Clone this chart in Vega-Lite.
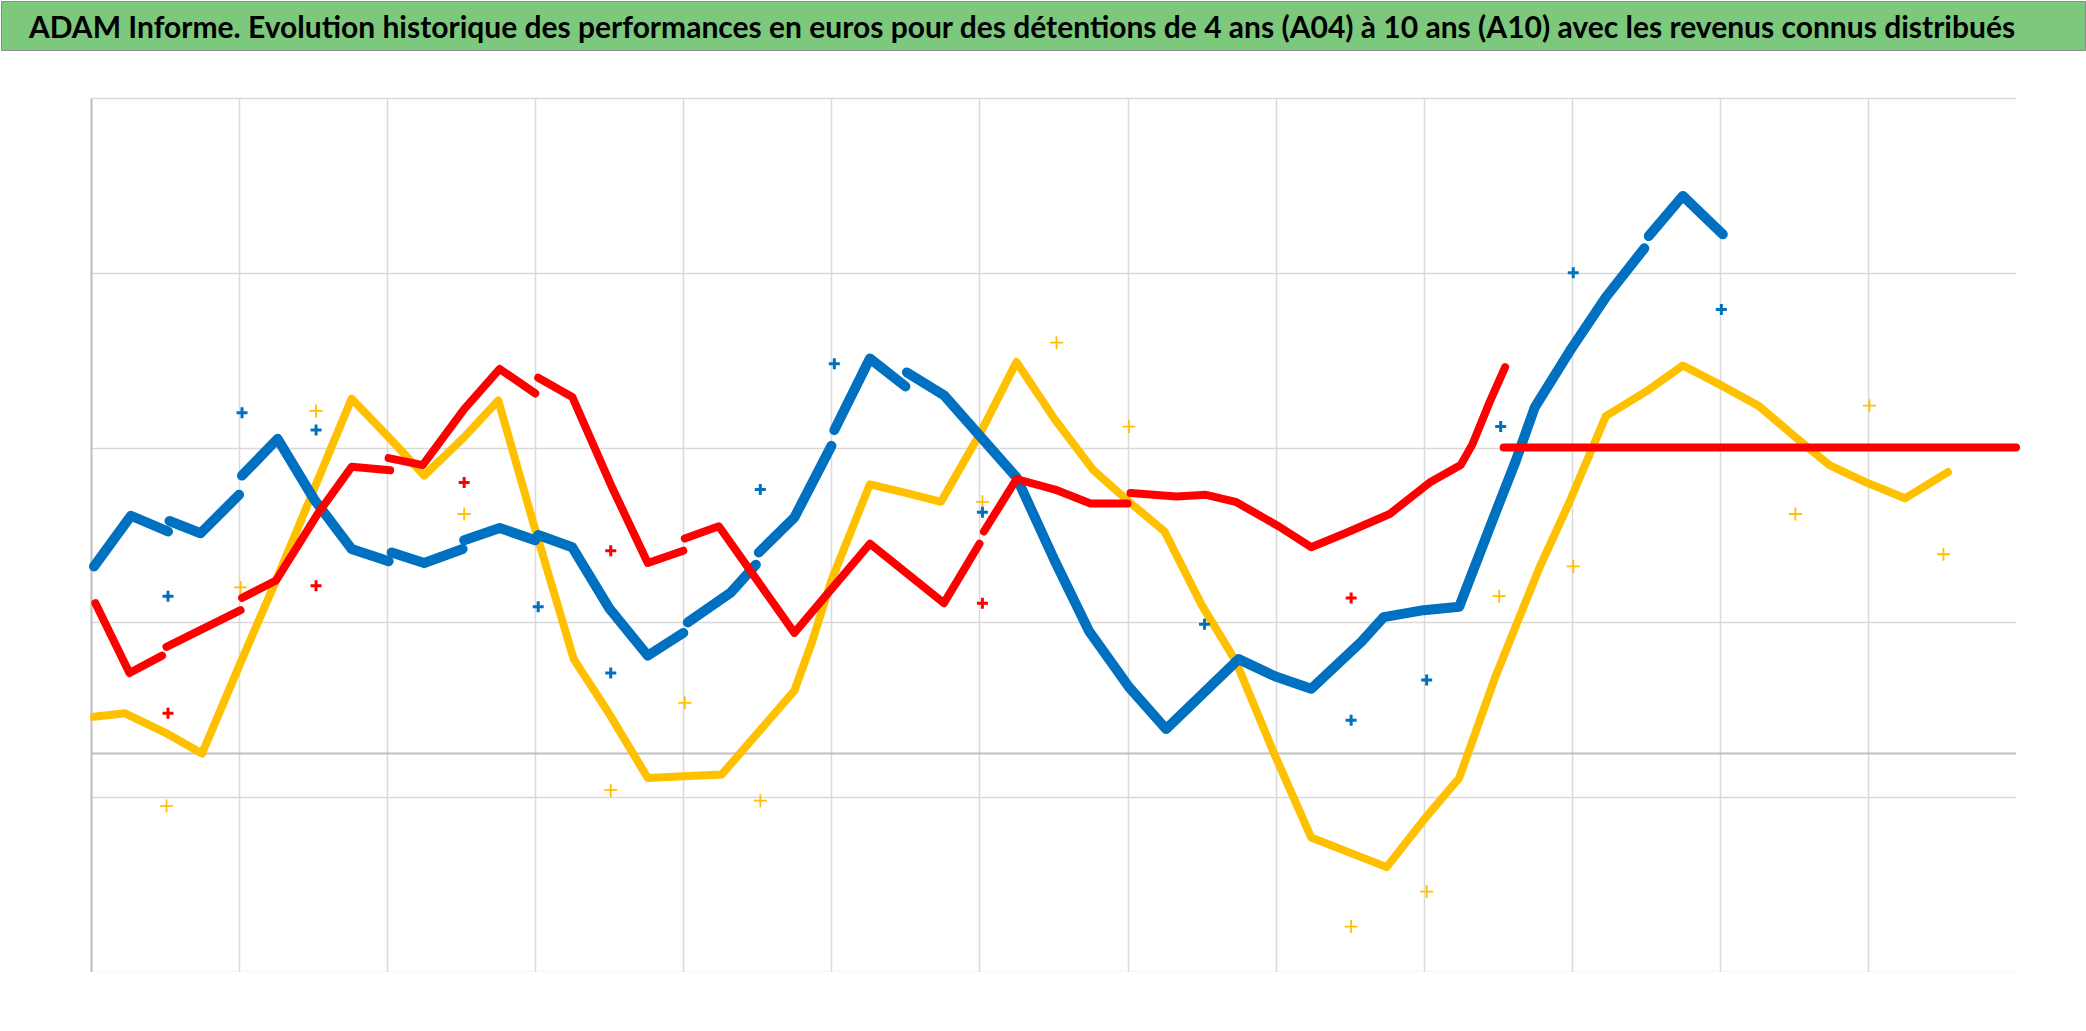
{
  "$schema": "https://vega.github.io/schema/vega-lite/v6.json",
  "padding": 0,
  "background": "white",
  "spacing": 48,
  "bounds": "flush",
  "config": {"view": {"stroke": null}},
  "datasets": {
    "lignes": [
      {"serie": "A04", "seg": "B1", "annee": 2007.02, "euros": 4280},
      {"serie": "A04", "seg": "B1", "annee": 2007.27, "euros": 5440},
      {"serie": "A04", "seg": "B1", "annee": 2007.52, "euros": 5080},
      {"serie": "A04", "seg": "B2", "annee": 2007.53, "euros": 5320},
      {"serie": "A04", "seg": "B2", "annee": 2007.74, "euros": 5040},
      {"serie": "A04", "seg": "B2", "annee": 2008.00, "euros": 5920},
      {"serie": "A04", "seg": "B3", "annee": 2008.02, "euros": 6360},
      {"serie": "A04", "seg": "B3", "annee": 2008.26, "euros": 7200},
      {"serie": "A04", "seg": "B3", "annee": 2008.51, "euros": 5800},
      {"serie": "A04", "seg": "B3", "annee": 2008.76, "euros": 4680},
      {"serie": "A04", "seg": "B3", "annee": 2009.01, "euros": 4400},
      {"serie": "A04", "seg": "B4", "annee": 2009.03, "euros": 4600},
      {"serie": "A04", "seg": "B4", "annee": 2009.25, "euros": 4360},
      {"serie": "A04", "seg": "B4", "annee": 2009.51, "euros": 4680},
      {"serie": "A04", "seg": "B5", "annee": 2009.52, "euros": 4880},
      {"serie": "A04", "seg": "B5", "annee": 2009.76, "euros": 5160},
      {"serie": "A04", "seg": "B5", "annee": 2010.00, "euros": 4880},
      {"serie": "A04", "seg": "B6", "annee": 2010.02, "euros": 5000},
      {"serie": "A04", "seg": "B6", "annee": 2010.25, "euros": 4720},
      {"serie": "A04", "seg": "B6", "annee": 2010.50, "euros": 3320},
      {"serie": "A04", "seg": "B6", "annee": 2010.76, "euros": 2240},
      {"serie": "A04", "seg": "B6", "annee": 2011.00, "euros": 2760},
      {"serie": "A04", "seg": "B7", "annee": 2011.03, "euros": 3000},
      {"serie": "A04", "seg": "B7", "annee": 2011.32, "euros": 3680},
      {"serie": "A04", "seg": "B7", "annee": 2011.49, "euros": 4320},
      {"serie": "A04", "seg": "B8", "annee": 2011.51, "euros": 4600},
      {"serie": "A04", "seg": "B8", "annee": 2011.75, "euros": 5400},
      {"serie": "A04", "seg": "B8", "annee": 2012.00, "euros": 7040},
      {"serie": "A04", "seg": "B9", "annee": 2012.02, "euros": 7400},
      {"serie": "A04", "seg": "B9", "annee": 2012.26, "euros": 9040},
      {"serie": "A04", "seg": "B9", "annee": 2012.50, "euros": 8400},
      {"serie": "A04", "seg": "B10", "annee": 2012.51, "euros": 8720},
      {"serie": "A04", "seg": "B10", "annee": 2012.76, "euros": 8200},
      {"serie": "A04", "seg": "B10", "annee": 2013.01, "euros": 7240},
      {"serie": "A04", "seg": "B10", "annee": 2013.25, "euros": 6320},
      {"serie": "A04", "seg": "B10", "annee": 2013.51, "euros": 4400},
      {"serie": "A04", "seg": "B10", "annee": 2013.74, "euros": 2800},
      {"serie": "A04", "seg": "B10", "annee": 2014.01, "euros": 1520},
      {"serie": "A04", "seg": "B10", "annee": 2014.26, "euros": 560},
      {"serie": "A04", "seg": "B10", "annee": 2014.75, "euros": 2160},
      {"serie": "A04", "seg": "B10", "annee": 2015.00, "euros": 1760},
      {"serie": "A04", "seg": "B10", "annee": 2015.24, "euros": 1480},
      {"serie": "A04", "seg": "B10", "annee": 2015.58, "euros": 2560},
      {"serie": "A04", "seg": "B10", "annee": 2015.73, "euros": 3120},
      {"serie": "A04", "seg": "B10", "annee": 2016.00, "euros": 3280},
      {"serie": "A04", "seg": "B10", "annee": 2016.24, "euros": 3360},
      {"serie": "A04", "seg": "B10", "annee": 2016.34, "euros": 4240},
      {"serie": "A04", "seg": "B10", "annee": 2016.50, "euros": 5640},
      {"serie": "A04", "seg": "B10", "annee": 2016.62, "euros": 6680},
      {"serie": "A04", "seg": "B10", "annee": 2016.75, "euros": 7920},
      {"serie": "A04", "seg": "B10", "annee": 2017.00, "euros": 9280},
      {"serie": "A04", "seg": "B10", "annee": 2017.23, "euros": 10440},
      {"serie": "A04", "seg": "B10", "annee": 2017.49, "euros": 11560},
      {"serie": "A04", "seg": "B11", "annee": 2017.52, "euros": 11840},
      {"serie": "A04", "seg": "B11", "annee": 2017.75, "euros": 12760},
      {"serie": "A04", "seg": "B11", "annee": 2018.02, "euros": 11880},

      {"serie": "A07", "seg": "R1", "annee": 2007.03, "euros": 3440},
      {"serie": "A07", "seg": "R1", "annee": 2007.26, "euros": 1840},
      {"serie": "A07", "seg": "R1", "annee": 2007.48, "euros": 2240},
      {"serie": "A07", "seg": "R2", "annee": 2007.51, "euros": 2440},
      {"serie": "A07", "seg": "R2", "annee": 2008.01, "euros": 3280},
      {"serie": "A07", "seg": "R3", "annee": 2008.02, "euros": 3560},
      {"serie": "A07", "seg": "R3", "annee": 2008.25, "euros": 3960},
      {"serie": "A07", "seg": "R3", "annee": 2008.53, "euros": 5480},
      {"serie": "A07", "seg": "R3", "annee": 2008.76, "euros": 6560},
      {"serie": "A07", "seg": "R3", "annee": 2009.02, "euros": 6480},
      {"serie": "A07", "seg": "R4", "annee": 2009.01, "euros": 6760},
      {"serie": "A07", "seg": "R4", "annee": 2009.24, "euros": 6600},
      {"serie": "A07", "seg": "R4", "annee": 2009.52, "euros": 7880},
      {"serie": "A07", "seg": "R4", "annee": 2009.76, "euros": 8800},
      {"serie": "A07", "seg": "R4", "annee": 2010.00, "euros": 8240},
      {"serie": "A07", "seg": "R5", "annee": 2010.02, "euros": 8600},
      {"serie": "A07", "seg": "R5", "annee": 2010.25, "euros": 8160},
      {"serie": "A07", "seg": "R5", "annee": 2010.52, "euros": 6080},
      {"serie": "A07", "seg": "R5", "annee": 2010.76, "euros": 4360},
      {"serie": "A07", "seg": "R5", "annee": 2011.00, "euros": 4640},
      {"serie": "A07", "seg": "R6", "annee": 2011.01, "euros": 4920},
      {"serie": "A07", "seg": "R6", "annee": 2011.24, "euros": 5200},
      {"serie": "A07", "seg": "R6", "annee": 2011.75, "euros": 2760},
      {"serie": "A07", "seg": "R6", "annee": 2012.00, "euros": 3760},
      {"serie": "A07", "seg": "R6", "annee": 2012.26, "euros": 4800},
      {"serie": "A07", "seg": "R6", "annee": 2012.51, "euros": 4120},
      {"serie": "A07", "seg": "R6", "annee": 2012.76, "euros": 3440},
      {"serie": "A07", "seg": "R6", "annee": 2013.00, "euros": 4800},
      {"serie": "A07", "seg": "R7", "annee": 2013.03, "euros": 5080},
      {"serie": "A07", "seg": "R7", "annee": 2013.25, "euros": 6280},
      {"serie": "A07", "seg": "R7", "annee": 2013.51, "euros": 6040},
      {"serie": "A07", "seg": "R7", "annee": 2013.75, "euros": 5720},
      {"serie": "A07", "seg": "R7", "annee": 2014.00, "euros": 5720},
      {"serie": "A07", "seg": "R8", "annee": 2014.02, "euros": 5960},
      {"serie": "A07", "seg": "R8", "annee": 2014.33, "euros": 5880},
      {"serie": "A07", "seg": "R8", "annee": 2014.53, "euros": 5920},
      {"serie": "A07", "seg": "R8", "annee": 2014.73, "euros": 5760},
      {"serie": "A07", "seg": "R8", "annee": 2015.02, "euros": 5200},
      {"serie": "A07", "seg": "R8", "annee": 2015.24, "euros": 4720},
      {"serie": "A07", "seg": "R8", "annee": 2015.47, "euros": 5040},
      {"serie": "A07", "seg": "R8", "annee": 2015.77, "euros": 5480},
      {"serie": "A07", "seg": "R8", "annee": 2016.04, "euros": 6200},
      {"serie": "A07", "seg": "R8", "annee": 2016.25, "euros": 6600},
      {"serie": "A07", "seg": "R8", "annee": 2016.33, "euros": 7080},
      {"serie": "A07", "seg": "R8", "annee": 2016.44, "euros": 8000},
      {"serie": "A07", "seg": "R8", "annee": 2016.55, "euros": 8840},
      {"serie": "A07", "seg": "R9", "annee": 2016.54, "euros": 7000},
      {"serie": "A07", "seg": "R9", "annee": 2020.00, "euros": 7000},

      {"serie": "A10", "seg": "Y1", "annee": 2007.02, "euros": 840},
      {"serie": "A10", "seg": "Y1", "annee": 2007.23, "euros": 920},
      {"serie": "A10", "seg": "Y1", "annee": 2007.50, "euros": 480},
      {"serie": "A10", "seg": "Y1", "annee": 2007.75, "euros": 0},
      {"serie": "A10", "seg": "Y1", "annee": 2008.01, "euros": 2080},
      {"serie": "A10", "seg": "Y1", "annee": 2008.25, "euros": 3960},
      {"serie": "A10", "seg": "Y1", "annee": 2008.51, "euros": 6080},
      {"serie": "A10", "seg": "Y1", "annee": 2008.76, "euros": 8120},
      {"serie": "A10", "seg": "Y1", "annee": 2009.01, "euros": 7240},
      {"serie": "A10", "seg": "Y1", "annee": 2009.25, "euros": 6360},
      {"serie": "A10", "seg": "Y1", "annee": 2009.52, "euros": 7240},
      {"serie": "A10", "seg": "Y1", "annee": 2009.75, "euros": 8080},
      {"serie": "A10", "seg": "Y1", "annee": 2009.99, "euros": 5240},
      {"serie": "A10", "seg": "Y1", "annee": 2010.26, "euros": 2160},
      {"serie": "A10", "seg": "Y1", "annee": 2010.49, "euros": 960},
      {"serie": "A10", "seg": "Y1", "annee": 2010.76, "euros": -560},
      {"serie": "A10", "seg": "Y1", "annee": 2011.00, "euros": -520},
      {"serie": "A10", "seg": "Y1", "annee": 2011.26, "euros": -480},
      {"serie": "A10", "seg": "Y1", "annee": 2011.75, "euros": 1440},
      {"serie": "A10", "seg": "Y1", "annee": 2011.87, "euros": 2560},
      {"serie": "A10", "seg": "Y1", "annee": 2012.00, "euros": 3960},
      {"serie": "A10", "seg": "Y1", "annee": 2012.26, "euros": 6160},
      {"serie": "A10", "seg": "Y1", "annee": 2012.51, "euros": 5960},
      {"serie": "A10", "seg": "Y1", "annee": 2012.74, "euros": 5760},
      {"serie": "A10", "seg": "Y1", "annee": 2013.01, "euros": 7360},
      {"serie": "A10", "seg": "Y1", "annee": 2013.25, "euros": 8960},
      {"serie": "A10", "seg": "Y1", "annee": 2013.51, "euros": 7640},
      {"serie": "A10", "seg": "Y1", "annee": 2013.77, "euros": 6480},
      {"serie": "A10", "seg": "Y1", "annee": 2014.01, "euros": 5760},
      {"serie": "A10", "seg": "Y1", "annee": 2014.25, "euros": 5080},
      {"serie": "A10", "seg": "Y1", "annee": 2014.50, "euros": 3400},
      {"serie": "A10", "seg": "Y1", "annee": 2014.73, "euros": 2120},
      {"serie": "A10", "seg": "Y1", "annee": 2014.99, "euros": 0},
      {"serie": "A10", "seg": "Y1", "annee": 2015.24, "euros": -1920},
      {"serie": "A10", "seg": "Y1", "annee": 2015.75, "euros": -2600},
      {"serie": "A10", "seg": "Y1", "annee": 2016.00, "euros": -1520},
      {"serie": "A10", "seg": "Y1", "annee": 2016.24, "euros": -560},
      {"serie": "A10", "seg": "Y1", "annee": 2016.48, "euros": 1720},
      {"serie": "A10", "seg": "Y1", "annee": 2016.78, "euros": 4240},
      {"serie": "A10", "seg": "Y1", "annee": 2016.98, "euros": 5720},
      {"serie": "A10", "seg": "Y1", "annee": 2017.23, "euros": 7720},
      {"serie": "A10", "seg": "Y1", "annee": 2017.50, "euros": 8280},
      {"serie": "A10", "seg": "Y1", "annee": 2017.75, "euros": 8880},
      {"serie": "A10", "seg": "Y1", "annee": 2018.00, "euros": 8440},
      {"serie": "A10", "seg": "Y1", "annee": 2018.26, "euros": 7960},
      {"serie": "A10", "seg": "Y1", "annee": 2018.51, "euros": 7240},
      {"serie": "A10", "seg": "Y1", "annee": 2018.74, "euros": 6600},
      {"serie": "A10", "seg": "Y1", "annee": 2018.99, "euros": 6200},
      {"serie": "A10", "seg": "Y1", "annee": 2019.25, "euros": 5840},
      {"serie": "A10", "seg": "Y1", "annee": 2019.54, "euros": 6440}
    ],
    "revenus": [
      {"serie": "A04", "annee": 2007.52, "euros": 3600},
      {"serie": "A04", "annee": 2008.02, "euros": 7800},
      {"serie": "A04", "annee": 2008.52, "euros": 7400},
      {"serie": "A04", "annee": 2010.02, "euros": 3360},
      {"serie": "A04", "annee": 2010.51, "euros": 1840},
      {"serie": "A04", "annee": 2011.52, "euros": 6040},
      {"serie": "A04", "annee": 2012.02, "euros": 8920},
      {"serie": "A04", "annee": 2013.02, "euros": 5520},
      {"serie": "A04", "annee": 2014.52, "euros": 2960},
      {"serie": "A04", "annee": 2015.51, "euros": 760},
      {"serie": "A04", "annee": 2016.02, "euros": 1680},
      {"serie": "A04", "annee": 2016.52, "euros": 7480},
      {"serie": "A04", "annee": 2017.01, "euros": 11000},
      {"serie": "A04", "annee": 2018.01, "euros": 10160},
      {"serie": "A07", "annee": 2007.52, "euros": 920},
      {"serie": "A07", "annee": 2008.52, "euros": 3840},
      {"serie": "A07", "annee": 2009.52, "euros": 6200},
      {"serie": "A07", "annee": 2010.51, "euros": 4640},
      {"serie": "A07", "annee": 2013.02, "euros": 3440},
      {"serie": "A07", "annee": 2015.51, "euros": 3560},
      {"serie": "A10", "annee": 2007.51, "euros": -1200},
      {"serie": "A10", "annee": 2008.01, "euros": 3800},
      {"serie": "A10", "annee": 2008.52, "euros": 7840},
      {"serie": "A10", "annee": 2009.52, "euros": 5480},
      {"serie": "A10", "annee": 2010.51, "euros": -840},
      {"serie": "A10", "annee": 2011.01, "euros": 1160},
      {"serie": "A10", "annee": 2011.52, "euros": -1080},
      {"serie": "A10", "annee": 2013.02, "euros": 5760},
      {"serie": "A10", "annee": 2013.52, "euros": 9400},
      {"serie": "A10", "annee": 2014.01, "euros": 7480},
      {"serie": "A10", "annee": 2015.51, "euros": -3960},
      {"serie": "A10", "annee": 2016.02, "euros": -3160},
      {"serie": "A10", "annee": 2016.51, "euros": 3600},
      {"serie": "A10", "annee": 2017.01, "euros": 4280},
      {"serie": "A10", "annee": 2018.51, "euros": 5480},
      {"serie": "A10", "annee": 2019.01, "euros": 7960},
      {"serie": "A10", "annee": 2019.51, "euros": 4560}
    ]
  },
  "vconcat": [
    {
      "width": 2084,
      "height": 49,
      "view": {"fill": "#7CC87C", "stroke": "#8C8C8C", "strokeWidth": 1},
      "data": {"values": [{"titre": "ADAM Informe. Evolution historique des performances en euros pour des détentions de 4 ans (A04) à 10 ans (A10) avec les revenus connus distribués"}]},
      "mark": {"type": "text", "font": "Lato", "fontWeight": "bold", "fontSize": 30, "color": "#000000", "align": "center", "baseline": "middle", "dx": -21, "dy": 3, "limit": 2060},
      "encoding": {"text": {"field": "titre", "type": "nominal"}}
    },
    {
      "hconcat": [
        {
          "width": 90,
          "height": 874,
          "data": {"values": [{"vide": ""}]},
          "mark": {"type": "text"},
          "encoding": {"text": {"field": "vide", "type": "nominal"}}
        },
        {
          "width": 1925,
          "height": 874,
          "layer": [
            {
              "data": {"values": [{"axe": 0}]},
              "mark": {"type": "rule", "color": "#BFBFBF", "strokeWidth": 2},
              "encoding": {
                "y": {"field": "axe", "type": "quantitative", "scale": {"domain": [-5000, 15000], "nice": false, "zero": false},
                  "axis": {"values": [-5000, -1000, 3000, 7000, 11000, 15000], "labels": false, "ticks": false, "domain": true, "domainColor": "#BFBFBF", "domainWidth": 2, "grid": true, "gridColor": "#D9D9D9", "gridWidth": 1.5, "title": null}}
              }
            },
            {
              "data": {"name": "lignes"},
              "transform": [{"filter": "datum.serie === 'A10'"}],
              "mark": {"type": "line", "color": "#FFC000", "strokeWidth": 8, "strokeCap": "round", "strokeJoin": "round"},
              "encoding": {
                "x": {"field": "annee", "type": "quantitative", "scale": {"domain": [2007, 2020], "nice": false, "zero": false},
                  "axis": {"values": [2007, 2008, 2009, 2010, 2011, 2012, 2013, 2014, 2015, 2016, 2017, 2018, 2019], "labels": false, "ticks": false, "domain": false, "grid": true, "gridColor": "#D9D9D9", "gridWidth": 1.5, "title": null}},
                "y": {"field": "euros", "type": "quantitative"},
                "detail": {"field": "seg", "type": "nominal"}
              }
            },
            {
              "data": {"name": "lignes"},
              "transform": [{"filter": "datum.serie === 'A04'"}],
              "mark": {"type": "line", "color": "#0070C0", "strokeWidth": 10, "strokeCap": "round", "strokeJoin": "round"},
              "encoding": {
                "x": {"field": "annee", "type": "quantitative"},
                "y": {"field": "euros", "type": "quantitative"},
                "detail": {"field": "seg", "type": "nominal"}
              }
            },
            {
              "data": {"name": "lignes"},
              "transform": [{"filter": "datum.serie === 'A07'"}],
              "mark": {"type": "line", "color": "#FF0000", "strokeWidth": 8, "strokeCap": "round", "strokeJoin": "round"},
              "encoding": {
                "x": {"field": "annee", "type": "quantitative"},
                "y": {"field": "euros", "type": "quantitative"},
                "detail": {"field": "seg", "type": "nominal"}
              }
            },
            {
              "data": {"name": "revenus"},
              "transform": [{"filter": "datum.serie === 'A10'"}],
              "mark": {"type": "point", "shape": "M-1,0L1,0M0,-1L0,1", "filled": false, "color": "#FFC000", "strokeWidth": 1.8, "size": 169, "opacity": 1},
              "encoding": {
                "x": {"field": "annee", "type": "quantitative"},
                "y": {"field": "euros", "type": "quantitative"}
              }
            },
            {
              "data": {"name": "revenus"},
              "transform": [{"filter": "datum.serie !== 'A10'"}],
              "mark": {"type": "point", "shape": "M-1,0L1,0M0,-1L0,1", "filled": false, "strokeWidth": 3, "size": 121, "opacity": 1},
              "encoding": {
                "x": {"field": "annee", "type": "quantitative"},
                "y": {"field": "euros", "type": "quantitative"},
                "color": {"field": "serie", "type": "nominal", "scale": {"domain": ["A04", "A07"], "range": ["#0070C0", "#FF0000"]}, "legend": null}
              }
            }
          ]
        }
      ],
      "spacing": 0,
      "bounds": "flush"
    }
  ]
}
